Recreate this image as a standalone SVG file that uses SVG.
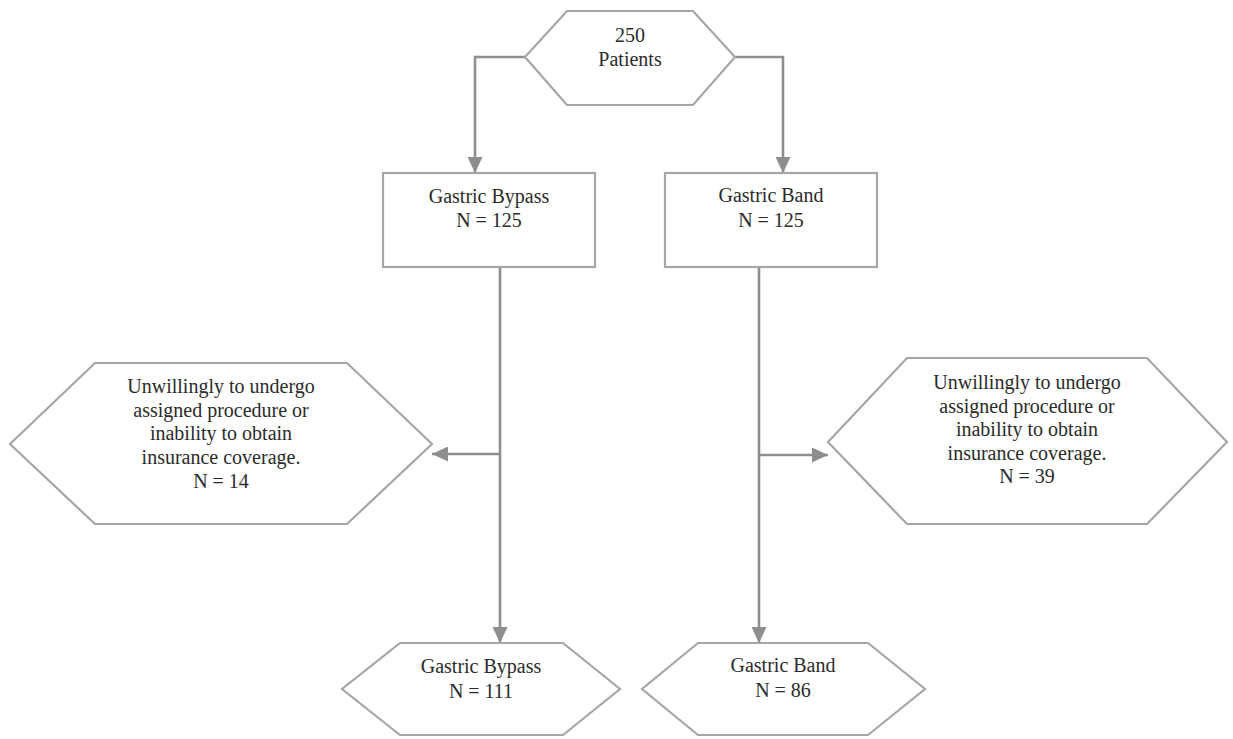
<svg xmlns="http://www.w3.org/2000/svg" width="1233" height="739" viewBox="0 0 1233 739">
<style>
.shape{fill:#ffffff;stroke:#a6a6a6;stroke-width:2.2}
.conn{fill:none;stroke:#8e8e8e;stroke-width:2.6}
text{font-family:"Liberation Serif","Times New Roman",serif;font-size:20px;fill:#2b2b2b;text-anchor:middle}
</style>
<defs>
<marker id="arr" markerUnits="userSpaceOnUse" markerWidth="16" markerHeight="15" refX="16" refY="7.5" orient="auto">
<path d="M0,0 L16,7.5 L0,15 z" fill="#8e8e8e"/>
</marker>
</defs>
<rect width="1233" height="739" fill="#ffffff"/>
<g id="connectors">
<path class="conn" d="M525,57 H475 V173" marker-end="url(#arr)"/>
<path class="conn" d="M735,57 H783 V173" marker-end="url(#arr)"/>
<path class="conn" d="M500,267 V643" marker-end="url(#arr)"/>
<path class="conn" d="M500,454 H432" marker-end="url(#arr)"/>
<path class="conn" d="M759,267 V643" marker-end="url(#arr)"/>
<path class="conn" d="M759,455 H828" marker-end="url(#arr)"/>
</g>
<g id="patients">
<polygon class="shape" points="567,11 693,11 735,57 693,105 567,105 525,57"/>
<text x="630" y="42">250</text>
<text x="630" y="66">Patients</text>
</g>
<g id="bypass">
<rect class="shape" x="383" y="173" width="212" height="94"/>
<text x="489" y="203">Gastric Bypass</text>
<text x="489" y="227">N = 125</text>
</g>
<g id="band">
<rect class="shape" x="665" y="173" width="212" height="94"/>
<text x="771" y="202">Gastric Band</text>
<text x="771" y="227">N = 125</text>
</g>
<g id="excluded-bypass">
<polygon class="shape" points="95,363 347,363 432,444 347,524 95,524 10,444"/>
<text x="221" y="393">Unwillingly to undergo</text>
<text x="221" y="416.7">assigned procedure or</text>
<text x="221" y="440.4">inability to obtain</text>
<text x="221" y="464.1">insurance coverage.</text>
<text x="221" y="487.8">N = 14</text>
</g>
<g id="excluded-band">
<polygon class="shape" points="907,358 1147,358 1227,442 1147,524 907,524 828,442"/>
<text x="1027" y="389">Unwillingly to undergo</text>
<text x="1027" y="412.5">assigned procedure or</text>
<text x="1027" y="436">inability to obtain</text>
<text x="1027" y="459.5">insurance coverage.</text>
<text x="1027" y="483">N = 39</text>
</g>
<g id="final-bypass">
<polygon class="shape" points="400,643 563,643 620,689 563,735 400,735 342,689"/>
<text x="481" y="673">Gastric Bypass</text>
<text x="481" y="698">N = 111</text>
</g>
<g id="final-band">
<polygon class="shape" points="698,643 868,643 925,689 868,735 698,735 642,689"/>
<text x="783" y="672">Gastric Band</text>
<text x="783" y="697">N = 86</text>
</g>
</svg>
